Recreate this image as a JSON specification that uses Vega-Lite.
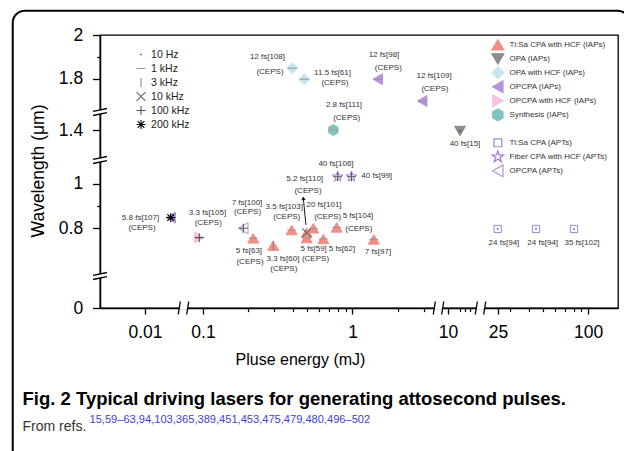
{
  "$schema": "https://vega.github.io/schema/vega-lite/v6.json",
  "width": 518,
  "height": 273,
  "autosize": {"type": "none"},
  "padding": {"left": 100, "top": 35, "right": 6, "bottom": 143},
  "background": "#ffffff",
  "config": {
    "view": {"stroke": "#000000", "strokeWidth": 1.3},
    "font": "Liberation Sans"
  },
  "resolve": {
    "scale": {"shape": "independent", "stroke": "independent", "fill": "independent"},
    "legend": {"shape": "independent", "stroke": "independent", "fill": "independent"},
    "axis": {"x": "independent", "y": "independent"}
  },
  "layer": [
    {
      "data": {"values": [{}]},
      "mark": {"type": "rect", "fill": "transparent", "stroke": "#000000", "strokeWidth": 2, "cornerRadius": 12},
      "encoding": {
        "x": {"datum": 0.001304, "type": "quantitative", "scale": {"type": "log", "domain": [0.005, 0.01741, 0.077, 3.618, 8.98, 15.87, 19.85, 158.7], "range": [0, 81, 86, 336, 341, 378, 383, 518], "nice": false}, "axis": null},
        "x2": {"datum": 190},
        "y": {"datum": 2.1105, "type": "quantitative", "scale": {"type": "linear", "domain": [0, 0.139, 0.59, 1.1025, 1.255, 1.485, 1.6545, 2], "range": [273, 242, 240, 126, 124, 78, 76, 0], "nice": false, "zero": false}, "axis": null},
        "y2": {"datum": -0.726}
      }
    },
    {
      "data": {"values": [{"bx": 0.0366}, {"bx": 5.7}, {"bx": 17.75}]},
      "mark": {"type": "point", "filled": true, "opacity": 1, "color": "#ffffff", "strokeWidth": 0, "size": 196, "shape": "M-0.58,-0.22L0.58,-0.22L0.58,0.22L-0.58,0.22Z"},
      "encoding": {
        "x": {"field": "bx", "type": "quantitative", "scale": {"type": "log", "domain": [0.005, 0.01741, 0.077, 3.618, 8.98, 15.87, 19.85, 158.7], "range": [0, 81, 86, 336, 341, 378, 383, 518], "nice": false},
          "axis": {"orient": "top", "domain": false, "ticks": false, "labels": false, "grid": false, "title": "15,59–63,94,103,365,389,451,453,475,479,480,496–502", "titleX": -11, "titleY": 387, "titleAlign": "left", "titleBaseline": "alphabetic", "titleAngle": 0, "titleFontSize": 11.1, "titleFontWeight": "normal", "titleColor": "#3d3ddb", "titleFont": "Liberation Sans"}},
        "y": {"datum": 0, "type": "quantitative", "scale": {"type": "linear", "domain": [0, 0.139, 0.59, 1.1025, 1.255, 1.485, 1.6545, 2], "range": [273, 242, 240, 126, 124, 78, 76, 0], "nice": false, "zero": false}, "axis": null}
      }
    },
    {
      "data": {"values": [{"bx": 0.0366}, {"bx": 5.7}, {"bx": 17.75}]},
      "mark": {"type": "point", "filled": false, "opacity": 1, "color": "#000000", "strokeWidth": 1.3, "size": 196, "shape": "M-0.75,0.93L-0.45,-0.93M0.45,0.93L0.75,-0.93"},
      "encoding": {
        "x": {"field": "bx", "type": "quantitative", "scale": {"type": "log", "domain": [0.005, 0.01741, 0.077, 3.618, 8.98, 15.87, 19.85, 158.7], "range": [0, 81, 86, 336, 341, 378, 383, 518], "nice": false}, "axis": null},
        "y": {"datum": 0, "type": "quantitative", "scale": {"type": "linear", "domain": [0, 0.139, 0.59, 1.1025, 1.255, 1.485, 1.6545, 2], "range": [273, 242, 240, 126, 124, 78, 76, 0], "nice": false, "zero": false}, "axis": null}
      }
    },
    {
      "data": {"values": [{"by": 1.57}, {"by": 1.179}, {"by": 0.3645}]},
      "mark": {"type": "point", "filled": true, "opacity": 1, "color": "#ffffff", "strokeWidth": 0, "size": 196, "shape": "M-0.25,-0.26L0.25,-0.26L0.25,0.26L-0.25,0.26Z"},
      "encoding": {
        "x": {"datum": 0.005, "type": "quantitative", "scale": {"type": "log", "domain": [0.005, 0.01741, 0.077, 3.618, 8.98, 15.87, 19.85, 158.7], "range": [0, 81, 86, 336, 341, 378, 383, 518], "nice": false}, "axis": null},
        "y": {"field": "by", "type": "quantitative", "scale": {"type": "linear", "domain": [0, 0.139, 0.59, 1.1025, 1.255, 1.485, 1.6545, 2], "range": [273, 242, 240, 126, 124, 78, 76, 0], "nice": false, "zero": false}, "axis": null}
      }
    },
    {
      "data": {"values": [{"by": 1.57}, {"by": 1.179}, {"by": 0.3645}]},
      "mark": {"type": "point", "filled": false, "opacity": 1, "color": "#000000", "strokeWidth": 1.3, "size": 196, "shape": "M-1,-0.1L1,-0.5M-1,0.5L1,0.1"},
      "encoding": {
        "x": {"datum": 0.005, "type": "quantitative", "scale": {"type": "log", "domain": [0.005, 0.01741, 0.077, 3.618, 8.98, 15.87, 19.85, 158.7], "range": [0, 81, 86, 336, 341, 378, 383, 518], "nice": false}, "axis": null},
        "y": {"field": "by", "type": "quantitative", "scale": {"type": "linear", "domain": [0, 0.139, 0.59, 1.1025, 1.255, 1.485, 1.6545, 2], "range": [273, 242, 240, 126, 124, 78, 76, 0], "nice": false, "zero": false}, "axis": null}
      }
    },
    {
      "data": {"name": "pts", "values": [
        {"x": 0.01486, "y": 0.848, "cat": "OPCPA (IAPs)", "rep": "200 kHz"},
        {"x": 0.0945, "y": 0.758, "cat": "OPCPA with HCF (IAPs)", "rep": "100 kHz"},
        {"x": 0.186, "y": 0.8, "cat": "OPCPA (APTs)", "rep": "100 kHz"},
        {"x": 0.217, "y": 0.755, "cat": "Ti:Sa CPA with HCF (IAPs)", "rep": "1 kHz"},
        {"x": 0.295, "y": 0.722, "cat": "Ti:Sa CPA with HCF (IAPs)", "rep": "3 kHz"},
        {"x": 0.392, "y": 0.792, "cat": "Ti:Sa CPA with HCF (IAPs)", "rep": "1 kHz"},
        {"x": 0.494, "y": 0.78, "cat": "Ti:Sa CPA with HCF (IAPs)", "rep": "10 kHz"},
        {"x": 0.494, "y": 0.756, "cat": "Ti:Sa CPA with HCF (IAPs)", "rep": "1 kHz"},
        {"x": 0.547, "y": 0.8, "cat": "Ti:Sa CPA with HCF (IAPs)", "rep": "1 kHz"},
        {"x": 0.638, "y": 0.752, "cat": "Ti:Sa CPA with HCF (IAPs)", "rep": "1 kHz"},
        {"x": 0.784, "y": 0.804, "cat": "Ti:Sa CPA with HCF (IAPs)", "rep": "1 kHz"},
        {"x": 1.388, "y": 0.75, "cat": "Ti:Sa CPA with HCF (IAPs)", "rep": "1 kHz"},
        {"x": 0.796, "y": 1.032, "cat": "Fiber CPA with HCF (APTs)", "rep": "100 kHz"},
        {"x": 0.985, "y": 1.032, "cat": "Fiber CPA with HCF (APTs)", "rep": "100 kHz"},
        {"x": 0.3956, "y": 1.849, "cat": "OPA with HCF (IAPs)", "rep": "1 kHz"},
        {"x": 0.476, "y": 1.799, "cat": "OPA with HCF (IAPs)", "rep": "1 kHz"},
        {"x": 1.476, "y": 1.799, "cat": "OPCPA (IAPs)", "rep": "1 kHz"},
        {"x": 2.925, "y": 1.7, "cat": "OPCPA (IAPs)", "rep": "1 kHz"},
        {"x": 0.744, "y": 1.4, "cat": "Synthesis (IAPs)", "rep": "1 kHz"},
        {"x": 12.03, "y": 1.395, "cat": "OPA (IAPs)", "rep": "10 Hz"},
        {"x": 24.9, "y": 0.797, "cat": "Ti:Sa CPA (APTs)", "rep": "10 Hz"},
        {"x": 44.9, "y": 0.797, "cat": "Ti:Sa CPA (APTs)", "rep": "10 Hz"},
        {"x": 80.6, "y": 0.797, "cat": "Ti:Sa CPA (APTs)", "rep": "10 Hz"}
      ]},
      "mark": {"type": "point", "filled": true, "opacity": 1, "strokeWidth": 1, "size": 120},
      "encoding": {
        "x": {"field": "x", "type": "quantitative", "scale": {"type": "log", "domain": [0.005, 0.01741, 0.077, 3.618, 8.98, 15.87, 19.85, 158.7], "range": [0, 81, 86, 336, 341, 378, 383, 518], "nice": false},
          "axis": {"orient": "bottom", "values": [0.01, 0.1, 1, 10, 25, 100], "format": "~g", "tickSize": 6, "tickWidth": 1.3, "tickColor": "#000000", "domainColor": "#000000", "domainWidth": 1.5, "labelFontSize": 17.5, "labelColor": "#000000", "labelPadding": 9, "labelFlush": false, "labelOverlap": false, "grid": false,
            "title": "Pluse energy (mJ)", "titleX": 200, "titleY": 56, "titleAlign": "center", "titleBaseline": "alphabetic", "titleFontSize": 16, "titleFontWeight": "normal", "titleColor": "#000000"}},
        "y": {"field": "y", "type": "quantitative", "scale": {"type": "linear", "domain": [0, 0.139, 0.59, 1.1025, 1.255, 1.485, 1.6545, 2], "range": [273, 242, 240, 126, 124, 78, 76, 0], "nice": false, "zero": false},
          "axis": {"orient": "left", "values": [0, 0.8, 1, 1.4, 1.8, 2], "format": "~g", "tickSize": 7.5, "tickWidth": 1.3, "tickColor": "#000000", "domainColor": "#000000", "domainWidth": 1.5, "labelFontSize": 17.5, "labelColor": "#000000", "labelPadding": 9.8, "labelFlush": false, "labelOverlap": false, "grid": false,
            "title": "Wavelength (μm)", "titleX": -56.7, "titleY": 135.5, "titleAngle": 270, "titleAlign": "center", "titleBaseline": "alphabetic", "titleFontSize": 17.5, "titleFontWeight": "normal", "titleColor": "#000000"}},
        "shape": {"field": "cat", "type": "nominal",
          "scale": {"domain": ["Ti:Sa CPA with HCF (IAPs)", "OPA (IAPs)", "OPA with HCF (IAPs)", "OPCPA (IAPs)", "OPCPA with HCF (IAPs)", "Synthesis (IAPs)", " ", "Ti:Sa CPA (APTs)", "Fiber CPA with HCF (APTs)", "OPCPA (APTs)"],
            "range": ["triangle-up", "triangle-down", "diamond", "triangle-left", "triangle-right", "M0,-1L0.866,-0.5L0.866,0.5L0,1L-0.866,0.5L-0.866,-0.5Z", "M0,0L0.01,0", "M-0.66,-0.66L0.66,-0.66L0.66,0.66L-0.66,0.66Z", "M0,-1L0.2245,-0.309L0.9511,-0.309L0.3633,0.118L0.5878,0.809L0,0.382L-0.5878,0.809L-0.3633,0.118L-0.9511,-0.309L-0.2245,-0.309Z", "triangle-left"]},
          "legend": {"orient": "none", "legendX": 390.85, "legendY": 2.95, "title": null, "padding": 0, "labelFontSize": 8, "labelColor": "#333333", "labelFont": "Liberation Sans", "symbolSize": 140, "rowPadding": 0, "clipHeight": 13.8, "labelOffset": 4.75, "symbolStrokeWidth": 1.2}},
        "fill": {"field": "cat", "type": "nominal",
          "scale": {"domain": ["Ti:Sa CPA with HCF (IAPs)", "OPA (IAPs)", "OPA with HCF (IAPs)", "OPCPA (IAPs)", "OPCPA with HCF (IAPs)", "Synthesis (IAPs)", " ", "Ti:Sa CPA (APTs)", "Fiber CPA with HCF (APTs)", "OPCPA (APTs)"],
            "range": ["#F28E84", "#8C8C8C", "#C6E5F0", "#B893DB", "#F6C2E4", "#7FC5BF", "transparent", "#ffffff", "#ffffff", "#ffffff"]},
          "legend": {"orient": "none", "legendX": 390.85, "legendY": 2.95, "title": null, "padding": 0, "labelFontSize": 8, "labelColor": "#333333", "labelFont": "Liberation Sans", "symbolSize": 140, "rowPadding": 0, "clipHeight": 13.8, "labelOffset": 4.75, "symbolStrokeWidth": 1.2}},
        "stroke": {"field": "cat", "type": "nominal",
          "scale": {"domain": ["Ti:Sa CPA with HCF (IAPs)", "OPA (IAPs)", "OPA with HCF (IAPs)", "OPCPA (IAPs)", "OPCPA with HCF (IAPs)", "Synthesis (IAPs)", " ", "Ti:Sa CPA (APTs)", "Fiber CPA with HCF (APTs)", "OPCPA (APTs)"],
            "range": ["#F28E84", "#8C8C8C", "#C6E5F0", "#B893DB", "#F6C2E4", "#7FC5BF", "transparent", "#8A8FD2", "#A472DA", "#B58FDC"]},
          "legend": {"orient": "none", "legendX": 390.85, "legendY": 2.95, "title": null, "padding": 0, "labelFontSize": 8, "labelColor": "#333333", "labelFont": "Liberation Sans", "symbolSize": 140, "rowPadding": 0, "clipHeight": 13.8, "labelOffset": 4.75, "symbolStrokeWidth": 1.2}}
      }
    },
    {
      "data": {"name": "pts"},
      "mark": {"type": "point", "filled": false, "opacity": 1, "strokeWidth": 1.1, "size": 80},
      "encoding": {
        "x": {"field": "x", "type": "quantitative", "scale": {"type": "log", "domain": [0.005, 0.01741, 0.077, 3.618, 8.98, 15.87, 19.85, 158.7], "range": [0, 81, 86, 336, 341, 378, 383, 518], "nice": false},
          "axis": {"orient": "bottom", "values": [0.2, 0.3, 0.4, 0.5, 0.6, 0.7, 0.8, 0.9, 2, 3, 12, 13, 14, 30, 40, 50, 60, 70, 80, 90], "labels": false, "domain": false, "tickSize": 3.6, "tickWidth": 1.2, "tickColor": "#000000", "grid": false, "title": null}},
        "y": {"field": "y", "type": "quantitative", "scale": {"type": "linear", "domain": [0, 0.139, 0.59, 1.1025, 1.255, 1.485, 1.6545, 2], "range": [273, 242, 240, 126, 124, 78, 76, 0], "nice": false, "zero": false},
          "axis": {"orient": "left", "values": [0.9, 1.9], "labels": false, "domain": false, "tickSize": 3.4, "tickWidth": 1.2, "tickColor": "#000000", "grid": false, "title": null}},
        "shape": {"field": "rep", "type": "nominal",
          "scale": {"domain": ["10 Hz", "1 kHz", "3 kHz", "10 kHz", "100 kHz", "200 kHz"],
            "range": ["M-0.15,0L0.15,0M0,-0.15L0,0.15", "M-1,0L1,0", "M0,-1L0,1", "M-1,-1L1,1M-1,1L1,-1", "M-1,0L1,0M0,-1L0,1", "M-1,0L1,0M0,-1L0,1M-0.75,-0.75L0.75,0.75M-0.75,0.75L0.75,-0.75"]},
          "legend": {"orient": "none", "legendX": 35.5, "legendY": 12.6, "title": null, "padding": 0, "labelFontSize": 10.5, "labelColor": "#222222", "labelFont": "Liberation Sans", "symbolSize": 80, "rowPadding": 0, "clipHeight": 13.8, "labelOffset": 4.6, "symbolStrokeWidth": 1.1}},
        "stroke": {"field": "rep", "type": "nominal",
          "scale": {"domain": ["10 Hz", "1 kHz", "3 kHz", "10 kHz", "100 kHz", "200 kHz"],
            "range": ["#333333", "#999999", "#888888", "#666666", "#555555", "#000000"]},
          "legend": {"orient": "none", "legendX": 35.5, "legendY": 12.6, "title": null, "padding": 0, "labelFontSize": 10.5, "labelColor": "#222222", "labelFont": "Liberation Sans", "symbolSize": 80, "rowPadding": 0, "clipHeight": 13.8, "labelOffset": 4.6, "symbolStrokeWidth": 1.1}}
      }
    },
    {
      "data": {"name": "arrow", "values": [{"x": 0.488, "y": 0.815, "x2": 0.469, "y2": 0.935}]},
      "mark": {"type": "rule", "color": "#000000", "strokeWidth": 0.9},
      "encoding": {
        "x": {"field": "x", "type": "quantitative", "scale": {"type": "log", "domain": [0.005, 0.01741, 0.077, 3.618, 8.98, 15.87, 19.85, 158.7], "range": [0, 81, 86, 336, 341, 378, 383, 518], "nice": false},
          "axis": {"orient": "top", "domain": false, "ticks": false, "labels": false, "grid": false, "title": "From refs.", "titleX": -78, "titleY": 395, "titleAlign": "left", "titleBaseline": "alphabetic", "titleAngle": 0, "titleFontSize": 14, "titleFontWeight": "normal", "titleColor": "#333333", "titleFont": "Liberation Sans"}},
        "y": {"field": "y", "type": "quantitative", "scale": {"type": "linear", "domain": [0, 0.139, 0.59, 1.1025, 1.255, 1.485, 1.6545, 2], "range": [273, 242, 240, 126, 124, 78, 76, 0], "nice": false, "zero": false}, "axis": null},
        "x2": {"field": "x2"},
        "y2": {"field": "y2"}
      }
    },
    {
      "data": {"name": "arrow"},
      "mark": {"type": "point", "filled": true, "opacity": 1, "color": "#000000", "strokeWidth": 0, "size": 18, "shape": "triangle-up", "angle": -5},
      "encoding": {
        "x": {"field": "x2", "type": "quantitative", "scale": {"type": "log", "domain": [0.005, 0.01741, 0.077, 3.618, 8.98, 15.87, 19.85, 158.7], "range": [0, 81, 86, 336, 341, 378, 383, 518], "nice": false}, "axis": null},
        "y": {"field": "y2", "type": "quantitative", "scale": {"type": "linear", "domain": [0, 0.139, 0.59, 1.1025, 1.255, 1.485, 1.6545, 2], "range": [273, 242, 240, 126, 124, 78, 76, 0], "nice": false, "zero": false}, "axis": null}
      }
    },
    {
      "data": {"values": [
        {"t": "12 fs[108]", "x": 0.27, "y": 1.8986}, {"t": "(CEPS)", "x": 0.2807, "y": 1.8332},
        {"t": "11.5 fs[61]", "x": 0.7347, "y": 1.8286}, {"t": "(CEPS)", "x": 0.7636, "y": 1.7805},
        {"t": "12 fs[98]", "x": 1.624, "y": 1.909}, {"t": "(CEPS)", "x": 1.736, "y": 1.8486},
        {"t": "12 fs[109]", "x": 3.51, "y": 1.8136}, {"t": "(CEPS)", "x": 3.56, "y": 1.7532},
        {"t": "2.8 fs[111]", "x": 0.8773, "y": 1.6818}, {"t": "(CEPS)", "x": 0.9146, "y": 1.4585},
        {"t": "40 fs[15]", "x": 12.99, "y": 1.3285},
        {"t": "40 fs[106]", "x": 0.7755, "y": 1.0877},
        {"t": "40 fs[99]", "x": 1.452, "y": 1.0351},
        {"t": "5.2 fs[110]", "x": 0.4788, "y": 1.0202}, {"t": "(CEPS)", "x": 0.504, "y": 0.9676},
        {"t": "7 fs[100]", "x": 0.197, "y": 0.915}, {"t": "(CEPS)", "x": 0.1985, "y": 0.8719},
        {"t": "3.3 fs[105]", "x": 0.1072, "y": 0.87}, {"t": "(CEPS)", "x": 0.1085, "y": 0.8251},
        {"t": "5.8 fs[107]", "x": 0.00933, "y": 0.8476}, {"t": "(CEPS)", "x": 0.00955, "y": 0.8},
        {"t": "3.5 fs[103]", "x": 0.3498, "y": 0.8943}, {"t": "(CEPS)", "x": 0.363, "y": 0.8494},
        {"t": "20 fs[101]", "x": 0.6448, "y": 0.9047}, {"t": "(CEPS)", "x": 0.6826, "y": 0.8521},
        {"t": "5 fs[104]", "x": 1.088, "y": 0.8552}, {"t": "(CEPS)", "x": 1.102, "y": 0.7954},
        {"t": "5 fs[63]", "x": 0.2031, "y": 0.6978}, {"t": "(CEPS)", "x": 0.2063, "y": 0.6497},
        {"t": "3.3 fs[60]", "x": 0.3428, "y": 0.6605}, {"t": "(CEPS)", "x": 0.3471, "y": 0.6156},
        {"t": "5 fs[59]", "x": 0.5502, "y": 0.7055}, {"t": "(CEPS)", "x": 0.5656, "y": 0.6619},
        {"t": "5 fs[62]", "x": 0.8506, "y": 0.7055},
        {"t": "7 fs[97]", "x": 1.481, "y": 0.692},
        {"t": "24 fs[94]", "x": 27.41, "y": 0.7325},
        {"t": "24 fs[94]", "x": 49.78, "y": 0.7325},
        {"t": "35 fs[102]", "x": 91.17, "y": 0.7325}
      ]},
      "mark": {"type": "text", "fontSize": 8, "color": "#333333", "align": "center", "baseline": "middle", "font": "Liberation Sans"},
      "encoding": {
        "x": {"field": "x", "type": "quantitative", "scale": {"type": "log", "domain": [0.005, 0.01741, 0.077, 3.618, 8.98, 15.87, 19.85, 158.7], "range": [0, 81, 86, 336, 341, 378, 383, 518], "nice": false},
          "axis": {"orient": "top", "domain": false, "ticks": false, "labels": false, "grid": false, "title": "Fig. 2 Typical driving lasers for generating attosecond pulses.", "titleX": -78, "titleY": 369, "titleAlign": "left", "titleBaseline": "alphabetic", "titleAngle": 0, "titleFontSize": 18.5, "titleFontWeight": "bold", "titleColor": "#000000", "titleFont": "Liberation Sans"}},
        "y": {"field": "y", "type": "quantitative", "scale": {"type": "linear", "domain": [0, 0.139, 0.59, 1.1025, 1.255, 1.485, 1.6545, 2], "range": [273, 242, 240, 126, 124, 78, 76, 0], "nice": false, "zero": false}, "axis": null},
        "text": {"field": "t"}
      }
    }
  ]
}
